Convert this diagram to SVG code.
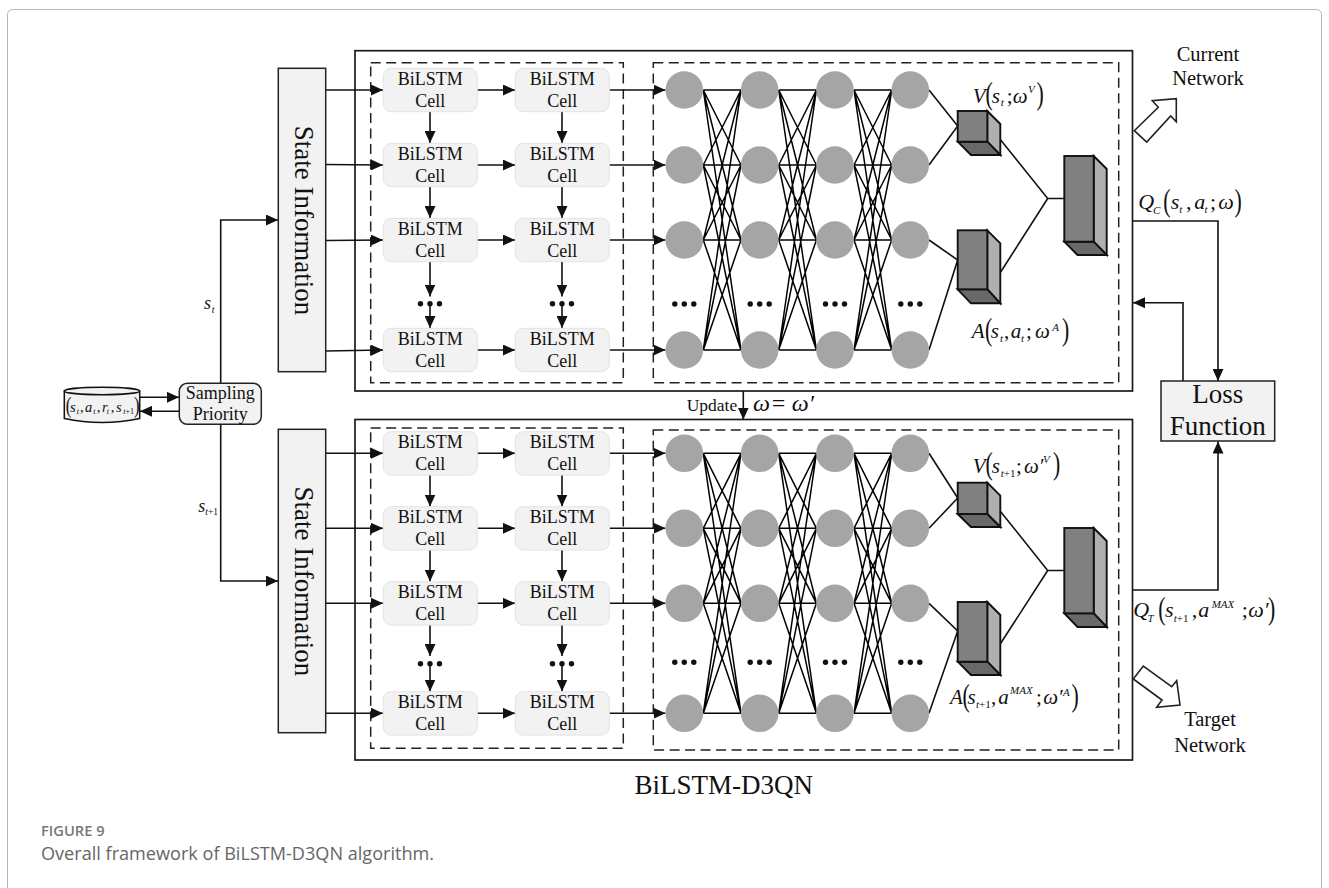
<svg xmlns="http://www.w3.org/2000/svg" xmlns:xlink="http://www.w3.org/1999/xlink" width="1329" height="888" viewBox="0 0 1329 888">
<style>
text{font-family:"Liberation Serif","Times New Roman",serif;fill:#111}
.c{text-anchor:middle}
.t18{font-size:18px}
.t20{font-size:20.5px}
.t27{font-size:27px}
.i{font-style:italic}
.p{font-size:32px}
.ps{font-size:24px}
.sb{font-size:11px}
.box{fill:#f2f2f2;stroke:#222;stroke-width:1.5}
.cell{fill:#f2f2f2;stroke:#e3e3e3;stroke-width:1}
.nd{fill:#a5a5a5}
.dot{fill:#111}
.outer{fill:none;stroke:#1a1a1a;stroke-width:1.7}
.dash{fill:none;stroke:#222;stroke-width:1.5;stroke-dasharray:10 5.5}
.ln{fill:none;stroke:#111;stroke-width:1.6}
.ar{fill:none;stroke:#111;stroke-width:1.6;marker-end:url(#ah)}
.mesh{fill:none;stroke:#000;stroke-width:1.5}
.fr{fill:#808080;stroke:#111;stroke-width:1.9}
.sd{fill:#afafaf;stroke:#111;stroke-width:1.9}
.bt{fill:#696969;stroke:#111;stroke-width:1.9}
.big{fill:#fff;stroke:#222;stroke-width:1.6}
.cap{font-family:"Open Sans","Noto Sans",sans-serif;fill:#666}
.n{font-style:normal}
</style>
<defs>
<marker id="ah" markerUnits="userSpaceOnUse" markerWidth="12" markerHeight="11" refX="12" refY="5.5" orient="auto"><path d="M0 0L12 5.5L0 11z" fill="#111"/></marker>
<path id="meshp" class="mesh" d="M0 0L37.7 0M0 0L37.7 75M0 0L37.7 150M0 0L37.7 260M0 75L37.7 0M0 75L37.7 75M0 75L37.7 150M0 75L37.7 260M0 150L37.7 0M0 150L37.7 75M0 150L37.7 150M0 150L37.7 260M0 260L37.7 0M0 260L37.7 75M0 260L37.7 150M0 260L37.7 260"/>
<g id="dots"><circle class="dot" cx="-9.5" cy="0" r="2.7"/><circle class="dot" cx="0" cy="0" r="2.7"/><circle class="dot" cx="9.5" cy="0" r="2.7"/></g>
</defs>
<rect x="7.5" y="9.5" width="1314" height="900" rx="5" fill="none" stroke="#b5b5b5" stroke-width="1"/>

<g id="containers">
<rect class="outer" x="355" y="50.7" width="777.5" height="340.3"/>
<rect class="outer" x="355" y="419.5" width="777.5" height="340.5"/>
<rect class="dash" x="370.7" y="62.7" width="252.6" height="320"/>
<rect class="dash" x="653.3" y="62.7" width="465.4" height="320"/>
<rect class="dash" x="370.7" y="428" width="252.6" height="320.3"/>
<rect class="dash" x="653.3" y="430" width="465.4" height="320"/>
</g>

<g id="connectors">
<path class="ar" d="M140 397.3H179"/>
<path class="ar" d="M179.3 411.3H140"/>
<path class="ar" d="M220.7 383.3V220H278"/>
<path class="ar" d="M220.7 424.3V581H278"/>
<path class="ar" d="M325.7 90H383"/><path class="ar" d="M325.7 164.5L383 165"/><path class="ar" d="M325.7 240.5L383 240"/><path class="ar" d="M325.7 351L383 350"/>
<path class="ar" d="M325.7 453.3H383"/><path class="ar" d="M325.7 528.3H383"/><path class="ar" d="M325.7 603.3H383"/><path class="ar" d="M325.7 713.3H383"/>
<path class="ar" d="M477.3 90H515"/><path class="ar" d="M477.3 165H515"/><path class="ar" d="M477.3 240H515"/><path class="ar" d="M477.3 350H515"/>
<path class="ar" d="M477.3 453.3H515"/><path class="ar" d="M477.3 528.3H515"/><path class="ar" d="M477.3 603.3H515"/><path class="ar" d="M477.3 713.3H515"/>
<path class="ar" d="M609.3 90H665.5"/><path class="ar" d="M609.3 165H665.5"/><path class="ar" d="M609.3 240H665.5"/><path class="ar" d="M609.3 350H665.5"/>
<path class="ar" d="M609.3 453.3H665.5"/><path class="ar" d="M609.3 528.3H665.5"/><path class="ar" d="M609.3 603.3H665.5"/><path class="ar" d="M609.3 713.3H665.5"/>
<path class="ar" d="M430 111.7V143"/><path class="ar" d="M430 186.7V218"/><path class="ar" d="M430 261.7V296.5"/><path class="ar" d="M430 304V328"/>
<path class="ar" d="M562 111.7V143"/><path class="ar" d="M562 186.7V218"/><path class="ar" d="M562 261.7V296.5"/><path class="ar" d="M562 304V328"/>
<path class="ar" d="M430 475V506.5"/><path class="ar" d="M430 550V581.5"/><path class="ar" d="M430 625V656"/><path class="ar" d="M430 664V691.5"/>
<path class="ar" d="M562 475V506.5"/><path class="ar" d="M562 550V581.5"/><path class="ar" d="M562 625V656"/><path class="ar" d="M562 664V691.5"/>
<use href="#meshp" x="703.3" y="90"/><use href="#meshp" x="778.7" y="90"/><use href="#meshp" x="854" y="90"/>
<use href="#meshp" x="703.3" y="453.3"/><use href="#meshp" x="778.7" y="453.3"/><use href="#meshp" x="854" y="453.3"/>
<path class="ln" d="M929 90L957.7 126L929 165M929 240L957.7 260L929 350"/>
<path class="ln" d="M1000.7 140L1047.7 198.5L1000.7 272M1047.7 198.5H1064.3"/>
<path class="ln" d="M929 453.3L957.7 498L929 528.3M929 603.3L957.7 631L929 713.3"/>
<path class="ln" d="M1000.7 511.7L1047.7 570.5L1000.7 643.3M1047.7 570.5H1064.3"/>
<path class="ar" d="M1132.5 221H1218V381"/>
<path class="ar" d="M1183 381V302.7H1133"/>
<path class="ar" d="M1132.5 590H1218V441.5"/>
<path class="ar" d="M743.3 391V419.5"/>
</g>

<g id="replay-buffer">
<path d="M64.3 391V418.5Q102 426.5 139.7 418.5V391z" fill="#f2f2f2" stroke="#111" stroke-width="1.5"/>
<ellipse cx="102" cy="391" rx="37.7" ry="3.7" fill="#f2f2f2" stroke="#111" stroke-width="1.5"/>
<text class="ps" transform="translate(65.7 412.5) scale(.7 1)">(</text>
<text class="i" style="font-size:14.5px"><tspan x="70" y="411.7">s</tspan><tspan x="76.7" y="414" style="font-size:8px">t</tspan><tspan class="n" x="80" y="411.7">,</tspan><tspan x="85" y="411.7">a</tspan><tspan x="93.3" y="414" style="font-size:8px">t</tspan><tspan class="n" x="96.7" y="411.7">,</tspan><tspan x="102" y="411.7">r</tspan><tspan x="106.7" y="414" style="font-size:8px">t</tspan><tspan class="n" x="110.7" y="411.7">,</tspan><tspan x="116" y="411.7">s</tspan><tspan x="123.3" y="414" style="font-size:8px">t<tspan class="n">+1</tspan></tspan></text>
<text class="ps" transform="translate(134 412.5) scale(.7 1)">)</text>
</g>

<g id="sampling-priority">
<rect class="box" x="179.3" y="383.3" width="82" height="41" rx="8"/>
<text class="t18 c" x="220.3" y="399.3">Sampling</text>
<text class="t18 c" x="220.3" y="420">Priority</text>
</g>
<g id="label-st"><text class="i" style="font-size:18px"><tspan x="204" y="309.3">s</tspan><tspan x="211.7" y="313" style="font-size:10px">t</tspan></text></g>
<g id="label-st1"><text class="i" style="font-size:18px"><tspan x="198.3" y="511.7">s</tspan><tspan x="205.3" y="515" style="font-size:9.5px">t<tspan class="n">+1</tspan></tspan></text></g>

<g id="state-top"><rect class="box" x="278.3" y="68.3" width="47.4" height="303.4"/><text class="t27 c" transform="translate(295 220.5) rotate(90)">State Information</text></g>
<g id="state-bottom"><rect class="box" x="278.3" y="429.3" width="47.4" height="303.4"/><text class="t27 c" transform="translate(295 581.3) rotate(90)">State Information</text></g>

<g id="cells-top">
<g id="cell-a1"><rect class="cell" x="383.3" y="68.3" width="94" height="43.4" rx="8"/><text class="t18 c" x="430.3" y="85">BiLSTM</text><text class="t18 c" x="430.3" y="106.7">Cell</text></g>
<g id="cell-a2"><rect class="cell" x="383.3" y="143.3" width="94" height="43.4" rx="8"/><text class="t18 c" x="430.3" y="160">BiLSTM</text><text class="t18 c" x="430.3" y="181.7">Cell</text></g>
<g id="cell-a3"><rect class="cell" x="383.3" y="218.3" width="94" height="43.4" rx="8"/><text class="t18 c" x="430.3" y="235">BiLSTM</text><text class="t18 c" x="430.3" y="256.7">Cell</text></g>
<g id="cell-a4"><rect class="cell" x="383.3" y="328.3" width="94" height="43.4" rx="8"/><text class="t18 c" x="430.3" y="345">BiLSTM</text><text class="t18 c" x="430.3" y="366.7">Cell</text></g>
<g id="cell-b1"><rect class="cell" x="515.3" y="68.3" width="94" height="43.4" rx="8"/><text class="t18 c" x="562.3" y="85">BiLSTM</text><text class="t18 c" x="562.3" y="106.7">Cell</text></g>
<g id="cell-b2"><rect class="cell" x="515.3" y="143.3" width="94" height="43.4" rx="8"/><text class="t18 c" x="562.3" y="160">BiLSTM</text><text class="t18 c" x="562.3" y="181.7">Cell</text></g>
<g id="cell-b3"><rect class="cell" x="515.3" y="218.3" width="94" height="43.4" rx="8"/><text class="t18 c" x="562.3" y="235">BiLSTM</text><text class="t18 c" x="562.3" y="256.7">Cell</text></g>
<g id="cell-b4"><rect class="cell" x="515.3" y="328.3" width="94" height="43.4" rx="8"/><text class="t18 c" x="562.3" y="345">BiLSTM</text><text class="t18 c" x="562.3" y="366.7">Cell</text></g>
<use href="#dots" x="430" y="303.7"/><use href="#dots" x="562" y="303.7"/>
</g>
<g id="cells-bottom">
<g id="cell-c1"><rect class="cell" x="383.3" y="431.7" width="94" height="43.4" rx="8"/><text class="t18 c" x="430.3" y="448.3">BiLSTM</text><text class="t18 c" x="430.3" y="470">Cell</text></g>
<g id="cell-c2"><rect class="cell" x="383.3" y="506.7" width="94" height="43.4" rx="8"/><text class="t18 c" x="430.3" y="523.3">BiLSTM</text><text class="t18 c" x="430.3" y="545">Cell</text></g>
<g id="cell-c3"><rect class="cell" x="383.3" y="581.7" width="94" height="43.4" rx="8"/><text class="t18 c" x="430.3" y="598.3">BiLSTM</text><text class="t18 c" x="430.3" y="620">Cell</text></g>
<g id="cell-c4"><rect class="cell" x="383.3" y="691.7" width="94" height="43.4" rx="8"/><text class="t18 c" x="430.3" y="708.3">BiLSTM</text><text class="t18 c" x="430.3" y="730">Cell</text></g>
<g id="cell-d1"><rect class="cell" x="515.3" y="431.7" width="94" height="43.4" rx="8"/><text class="t18 c" x="562.3" y="448.3">BiLSTM</text><text class="t18 c" x="562.3" y="470">Cell</text></g>
<g id="cell-d2"><rect class="cell" x="515.3" y="506.7" width="94" height="43.4" rx="8"/><text class="t18 c" x="562.3" y="523.3">BiLSTM</text><text class="t18 c" x="562.3" y="545">Cell</text></g>
<g id="cell-d3"><rect class="cell" x="515.3" y="581.7" width="94" height="43.4" rx="8"/><text class="t18 c" x="562.3" y="598.3">BiLSTM</text><text class="t18 c" x="562.3" y="620">Cell</text></g>
<g id="cell-d4"><rect class="cell" x="515.3" y="691.7" width="94" height="43.4" rx="8"/><text class="t18 c" x="562.3" y="708.3">BiLSTM</text><text class="t18 c" x="562.3" y="730">Cell</text></g>
<use href="#dots" x="430" y="663.7"/><use href="#dots" x="562" y="663.7"/>
</g>

<g id="neurons-top">
<g id="n-t-1"><circle class="nd" cx="684.3" cy="90" r="18.8"/><circle class="nd" cx="684.3" cy="165" r="18.8"/><circle class="nd" cx="684.3" cy="240" r="18.8"/><circle class="nd" cx="684.3" cy="350" r="18.8"/><use href="#dots" x="684.3" y="304"/></g>
<g id="n-t-2"><circle class="nd" cx="759.7" cy="90" r="18.8"/><circle class="nd" cx="759.7" cy="165" r="18.8"/><circle class="nd" cx="759.7" cy="240" r="18.8"/><circle class="nd" cx="759.7" cy="350" r="18.8"/><use href="#dots" x="759.7" y="304"/></g>
<g id="n-t-3"><circle class="nd" cx="835" cy="90" r="18.8"/><circle class="nd" cx="835" cy="165" r="18.8"/><circle class="nd" cx="835" cy="240" r="18.8"/><circle class="nd" cx="835" cy="350" r="18.8"/><use href="#dots" x="835" y="304"/></g>
<g id="n-t-4"><circle class="nd" cx="910.3" cy="90" r="18.8"/><circle class="nd" cx="910.3" cy="165" r="18.8"/><circle class="nd" cx="910.3" cy="240" r="18.8"/><circle class="nd" cx="910.3" cy="350" r="18.8"/><use href="#dots" x="910.3" y="304"/></g>
</g>
<g id="neurons-bottom">
<g id="n-b-1"><circle class="nd" cx="684.3" cy="453.3" r="18.8"/><circle class="nd" cx="684.3" cy="528.3" r="18.8"/><circle class="nd" cx="684.3" cy="603.3" r="18.8"/><circle class="nd" cx="684.3" cy="713.3" r="18.8"/><use href="#dots" x="684.3" y="662.3"/></g>
<g id="n-b-2"><circle class="nd" cx="759.7" cy="453.3" r="18.8"/><circle class="nd" cx="759.7" cy="528.3" r="18.8"/><circle class="nd" cx="759.7" cy="603.3" r="18.8"/><circle class="nd" cx="759.7" cy="713.3" r="18.8"/><use href="#dots" x="759.7" y="662.3"/></g>
<g id="n-b-3"><circle class="nd" cx="835" cy="453.3" r="18.8"/><circle class="nd" cx="835" cy="528.3" r="18.8"/><circle class="nd" cx="835" cy="603.3" r="18.8"/><circle class="nd" cx="835" cy="713.3" r="18.8"/><use href="#dots" x="835" y="662.3"/></g>
<g id="n-b-4"><circle class="nd" cx="910.3" cy="453.3" r="18.8"/><circle class="nd" cx="910.3" cy="528.3" r="18.8"/><circle class="nd" cx="910.3" cy="603.3" r="18.8"/><circle class="nd" cx="910.3" cy="713.3" r="18.8"/><use href="#dots" x="910.3" y="662.3"/></g>
</g>

<g id="cube-v-top"><path class="sd" d="M987.3 111L1000.3 124V155L987.3 141.7z"/><path class="bt" d="M957.7 141.7L971 155H1000.3L987.3 141.7z"/><rect class="fr" x="957.7" y="111" width="29.6" height="30.7"/></g>
<g id="cube-a-top"><path class="sd" d="M987.3 230.3L1000.3 243.3V303.3L987.3 289.3z"/><path class="bt" d="M957.7 289.3L971 303.3H1000.3L987.3 289.3z"/><rect class="fr" x="957.7" y="230.3" width="29.6" height="59"/></g>
<g id="cube-q-top"><path class="sd" d="M1093.7 156L1106.7 169V255L1093.7 241.7z"/><path class="bt" d="M1064.3 241.7L1077.5 255H1106.7L1093.7 241.7z"/><rect class="fr" x="1064.3" y="156" width="29.4" height="85.7"/></g>
<g id="cube-v-bottom"><path class="sd" d="M987.3 482.7L1000.3 495.7V527L987.3 514z"/><path class="bt" d="M957.7 514L971 527H1000.3L987.3 514z"/><rect class="fr" x="957.7" y="482.7" width="29.6" height="31.3"/></g>
<g id="cube-a-bottom"><path class="sd" d="M987.3 602L1000.3 615V675L987.3 661.7z"/><path class="bt" d="M957.7 661.7L971 675H1000.3L987.3 661.7z"/><rect class="fr" x="957.7" y="602" width="29.6" height="59.7"/></g>
<g id="cube-q-bottom"><path class="sd" d="M1093.7 528L1106.7 541V627L1093.7 613.3z"/><path class="bt" d="M1064.3 613.3L1077.5 627H1106.7L1093.7 613.3z"/><rect class="fr" x="1064.3" y="528" width="29.4" height="85.3"/></g>

<g id="label-v-top"><text class="i" style="font-size:21px"><tspan x="972.7" y="102.7">V</tspan></text><text class="p" transform="translate(985.5 104.3) scale(.68 1)">(</text><text class="i" style="font-size:21px"><tspan x="991.7" y="102.7">s</tspan><tspan class="sb" x="1000.7" y="106">t</tspan><tspan class="n" x="1006.7" y="102.7">;</tspan><tspan x="1012.7" y="102.7">ω</tspan><tspan class="sb" x="1028" y="93">V</tspan></text><text class="p" transform="translate(1036.5 104.3) scale(.68 1)">)</text></g>
<g id="label-a-top"><text class="i" style="font-size:21px"><tspan x="971.7" y="338.3">A</tspan></text><text class="p" transform="translate(985 340) scale(.68 1)">(</text><text class="i" style="font-size:21px"><tspan x="990.7" y="338.3">s</tspan><tspan class="sb" x="1000" y="342">t</tspan><tspan class="n" x="1004" y="338.3">,</tspan><tspan x="1010.7" y="338.3">a</tspan><tspan class="sb" x="1021" y="342">t</tspan><tspan class="n" x="1026" y="338.3">;</tspan><tspan x="1035" y="338.3">ω</tspan><tspan class="sb" x="1052.3" y="331">A</tspan></text><text class="p" transform="translate(1062 340) scale(.68 1)">)</text></g>
<g id="label-q-c"><text class="i" style="font-size:22px"><tspan x="1138.3" y="209.3">Q</tspan><tspan class="sb" x="1153" y="213.5">C</tspan></text><text class="p" transform="translate(1163.3 211) scale(.68 1)">(</text><text class="i" style="font-size:22px"><tspan x="1170.7" y="209.3">s</tspan><tspan class="sb" x="1179.3" y="213">t</tspan><tspan class="n" x="1186" y="209.3">,</tspan><tspan x="1194.3" y="209.3">a</tspan><tspan class="sb" x="1204.5" y="213">t</tspan><tspan class="n" x="1210" y="209.3">;</tspan><tspan x="1218.3" y="209.3">ω</tspan></text><text class="p" transform="translate(1234.5 211) scale(.68 1)">)</text></g>
<g id="label-v-bottom"><text class="i" style="font-size:21px"><tspan x="972.7" y="472.7">V</tspan></text><text class="p" transform="translate(985.5 474.3) scale(.68 1)">(</text><text class="i" style="font-size:21px"><tspan x="991.7" y="472.7">s</tspan><tspan class="sb" x="1000.7" y="476.5">t<tspan class="n">+1</tspan></tspan><tspan class="n" x="1016" y="472.7">;</tspan><tspan x="1024" y="472.7">ω′</tspan><tspan class="sb" x="1043" y="463">V</tspan></text><text class="p" transform="translate(1053 474.3) scale(.68 1)">)</text></g>
<g id="label-a-bottom"><text class="i" style="font-size:21px"><tspan x="950" y="704">A</tspan></text><text class="p" transform="translate(962.5 706) scale(.68 1)">(</text><text class="i" style="font-size:21px"><tspan x="967.5" y="704">s</tspan><tspan class="sb" x="976" y="708">t<tspan class="n">+1</tspan></tspan><tspan class="n" x="991" y="704">,</tspan><tspan x="998.3" y="704">a</tspan><tspan class="sb" x="1010" y="694">MAX</tspan><tspan class="n" x="1036" y="704">;</tspan><tspan x="1043.3" y="704">ω′</tspan><tspan class="sb" x="1063" y="696">A</tspan></text><text class="p" transform="translate(1071.5 706) scale(.68 1)">)</text></g>
<g id="label-q-t"><text class="i" style="font-size:22px"><tspan x="1133.3" y="617.3">Q</tspan><tspan class="sb" x="1147.5" y="621.5">T</tspan></text><text class="p" transform="translate(1158.3 619) scale(.68 1)">(</text><text class="i" style="font-size:22px"><tspan x="1165" y="617.3">s</tspan><tspan class="sb" x="1173.8" y="621.5">t<tspan class="n">+1</tspan></tspan><tspan class="n" x="1191.7" y="617.3">,</tspan><tspan x="1198.3" y="617.3">a</tspan><tspan class="sb" x="1211.7" y="607.5">MAX</tspan><tspan class="n" x="1241.7" y="617.3">;</tspan><tspan x="1248.3" y="617.3">ω′</tspan></text><text class="p" transform="translate(1268 619) scale(.68 1)">)</text></g>

<g id="loss-function"><rect class="box" x="1161" y="381" width="113.7" height="60"/><text class="t27 c" x="1217.7" y="403.3">Loss</text><text class="t27 c" x="1217.7" y="435">Function</text></g>
<g id="current-network"><path class="big" d="M1134.3 130.7L1158.3 107.3L1152.3 100.7L1176.3 98.7V121.7L1170.7 116L1146.7 142z"/><text class="t20 c" x="1208" y="60.7">Current</text><text class="t20 c" x="1208" y="85">Network</text></g>
<g id="target-network"><path class="big" d="M1133.3 679L1143.3 666L1171.7 686.7L1176.7 680.7L1180 705L1156.7 707.3L1162 700z"/><text class="t20 c" x="1210" y="726">Target</text><text class="t20 c" x="1210" y="751.7">Network</text></g>

<g id="update"><text style="font-size:17.5px" x="686.7" y="411">Update</text><text style="font-size:24px"><tspan x="753" y="411" font-style="italic">ω</tspan><tspan x="771.7" y="411">=</tspan><tspan x="791.7" y="411" font-style="italic">ω′</tspan></text></g>

<text class="t27" x="634.5" y="794">BiLSTM-D3QN</text>
<text class="cap" x="41" y="836" style="font-size:14.7px;font-weight:600;fill:#777">FIGURE 9</text>
<text class="cap" x="41" y="859.5" style="font-size:18.1px">Overall framework of BiLSTM-D3QN algorithm.</text>
</svg>
